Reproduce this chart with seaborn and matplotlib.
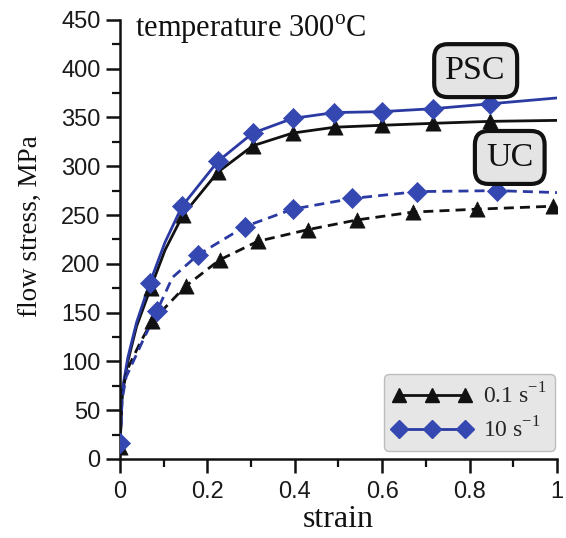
import matplotlib
matplotlib.use("Agg")
import matplotlib.pyplot as plt
import seaborn as sns
import pandas as pd
from matplotlib.lines import Line2D
from matplotlib.ticker import MultipleLocator, FixedLocator, FixedFormatter

# ---------------- data ----------------
# PSC, 0.1 s^-1 (black, solid)
psc01_mark_strain = [0.0, 0.070, 0.144, 0.224, 0.304, 0.395, 0.491, 0.600, 0.717, 0.847]
psc01_mark_stress = [12, 175, 250, 294, 321, 334, 340, 342, 344, 346]
psc01_line_strain = [0.0, 0.005, 0.018, 0.038, 0.070, 0.103, 0.144, 0.224, 0.304, 0.395, 0.491, 0.600, 0.717, 0.847, 1.0]
psc01_line_stress = [12, 66, 100, 136, 175, 214, 250, 294, 321, 334, 340, 342, 344, 346, 347]

# PSC, 10 s^-1 (blue, solid)
psc10_mark_strain = [0.0, 0.068, 0.142, 0.224, 0.304, 0.395, 0.490, 0.600, 0.717, 0.847]
psc10_mark_stress = [16, 180, 259, 305, 334, 349, 355, 356, 359, 364]
psc10_line_strain = [0.0, 0.005, 0.018, 0.038, 0.068, 0.103, 0.142, 0.224, 0.304, 0.395, 0.490, 0.600, 0.717, 0.847, 1.0]
psc10_line_stress = [16, 70, 104, 140, 180, 222, 259, 305, 334, 349, 355, 356, 359, 364, 370]

# UC, 0.1 s^-1 (black, dashed)
uc01_mark_strain = [0.073, 0.150, 0.228, 0.315, 0.430, 0.543, 0.670, 0.817, 0.990]
uc01_mark_stress = [141, 177, 204, 223, 235, 245, 253, 256, 259]
uc01_line_strain = [0.0, 0.005, 0.016, 0.046, 0.073, 0.150, 0.228, 0.315, 0.430, 0.543, 0.670, 0.817, 0.990, 1.0]
uc01_line_stress = [12, 68, 91, 119, 141, 177, 204, 223, 235, 245, 253, 256, 259, 259]

# UC, 10 s^-1 (blue, dashed)
uc10_mark_strain = [0.085, 0.178, 0.285, 0.395, 0.532, 0.680, 0.863]
uc10_mark_stress = [152, 209, 238, 256, 267, 274, 275]
uc10_line_strain = [0.0, 0.005, 0.014, 0.050, 0.085, 0.120, 0.178, 0.285, 0.395, 0.532, 0.680, 0.863, 1.0]
uc10_line_stress = [16, 61, 84, 119, 152, 186, 209, 238, 256, 267, 274, 275, 273]

rate_labels = ["0.1 s$^{\\mathregular{-1}}$", "10 s$^{\\mathregular{-1}}$"]
x_ticks = [0, 0.2, 0.4, 0.6, 0.8, 1.0]
x_tick_labels = ["0", "0.2", "0.4", "0.6", "0.8", "1"]

# ---------------- style ----------------
BLACK = "#111111"
BLUE = "#2b3aa3"
BLUE_M = "#3547b0"

sns.set_theme(style="ticks")
plt.rcParams['font.family'] = ['Liberation Sans', 'DejaVu Sans']
plt.rcParams['mathtext.fontset'] = 'custom'
plt.rcParams['mathtext.rm'] = 'Liberation Serif'

SERIF = ['Liberation Serif', 'DejaVu Serif']

fig = plt.figure(figsize=(5.66, 5.38), dpi=100)
ax = fig.add_axes([0.212, 0.147, 0.772, 0.816])

def line_df(s, v):
    return pd.DataFrame({"strain": s, "stress": v})

LW = 2.0
dash = (3.6, 2.2)
curves = [
    (psc01_line_strain, psc01_line_stress, BLACK, None),
    (psc10_line_strain, psc10_line_stress, BLUE, None),
    (uc01_line_strain, uc01_line_stress, BLACK, dash),
    (uc10_line_strain, uc10_line_stress, BLUE, dash),
]
for s, v, c, d in curves:
    sns.lineplot(data=line_df(s, v), x="strain", y="stress", ax=ax, color=c,
                 linewidth=LW, sort=False, estimator=None, zorder=2)
    ln = ax.lines[-1]
    if d is not None:
        ln.set_dashes(d)

marks = [
    (psc01_mark_strain, psc01_mark_stress, BLACK, "^", 120),
    (uc01_mark_strain, uc01_mark_stress, BLACK, "^", 120),
    (psc10_mark_strain, psc10_mark_stress, BLUE_M, "D", 105),
    (uc10_mark_strain, uc10_mark_stress, BLUE_M, "D", 105),
]
for s, v, c, m, sz in marks:
    sns.scatterplot(data=line_df(s, v), x="strain", y="stress", ax=ax, color=c,
                    marker=m, s=sz, edgecolor=c, linewidth=0.5, zorder=3)

ax.set_xlim(0, 1.0)
ax.set_ylim(0, 450)
ax.xaxis.set_major_locator(FixedLocator(x_ticks))
ax.xaxis.set_major_formatter(FixedFormatter(x_tick_labels))
ax.xaxis.set_minor_locator(MultipleLocator(0.1))
ax.yaxis.set_major_locator(MultipleLocator(50))
ax.yaxis.set_minor_locator(MultipleLocator(25))
ax.tick_params(which="major", direction="out", length=10, width=1.8,
               labelsize=17, color=BLACK, labelcolor="#1a1a1a")
ax.tick_params(axis="x", which="major", pad=6)
ax.tick_params(axis="y", which="major", pad=4)
ax.tick_params(which="minor", direction="out", length=6, width=1.6, color=BLACK)
for sp in ["top", "right"]:
    ax.spines[sp].set_visible(False)
for sp in ["left", "bottom"]:
    ax.spines[sp].set_linewidth(1.8)
    ax.spines[sp].set_color(BLACK)

ax.set_xlabel("strain", family=SERIF, fontsize=23, color=BLACK)
ax.set_ylabel("flow stress, MPa", family=SERIF, fontsize=19.5, color=BLACK)
ax.xaxis.set_label_coords(0.5, -0.105)
ax.yaxis.set_label_coords(-0.176, 0.53)

ax.text(0.034, 432, "temperature 300$^{\\mathregular{o}}$C",
        transform=ax.get_yaxis_transform(), family=SERIF, fontsize=22,
        ha="left", va="baseline", color=BLACK)

box = dict(boxstyle="round,pad=0.33,rounding_size=0.4", facecolor="#e4e4e4",
           edgecolor=BLACK, linewidth=3.0)
ax.text(0.814, 398, "PSC", family=SERIF, fontsize=24.5, ha="center", va="center",
        color=BLACK, bbox=box, zorder=5)
ax.text(0.892, 309, "UC", family=SERIF, fontsize=24.5, ha="center", va="center",
        color=BLACK, bbox=box, zorder=5)

handles = [
    Line2D([], [], color=BLACK, marker="^", markersize=10.5, linewidth=LW),
    Line2D([], [], color=BLUE, marker="D", markersize=9.5, markerfacecolor=BLUE_M,
           markeredgecolor=BLUE_M, linewidth=LW),
]
leg = ax.legend(handles, rate_labels, loc="lower right", numpoints=3,
                handlelength=3.4, handletextpad=0.45, borderpad=0.35,
                labelspacing=0.4, frameon=True, fancybox=True, borderaxespad=0,
                prop={"family": SERIF, "size": 17}, bbox_to_anchor=(0.995, 0.018))
frame = leg.get_frame()
frame.set_facecolor("#e6e6e6")
frame.set_edgecolor("#bdbdbd")
frame.set_alpha(1.0)
frame.set_linewidth(1.0)

fig.savefig("out.png", dpi=100)
